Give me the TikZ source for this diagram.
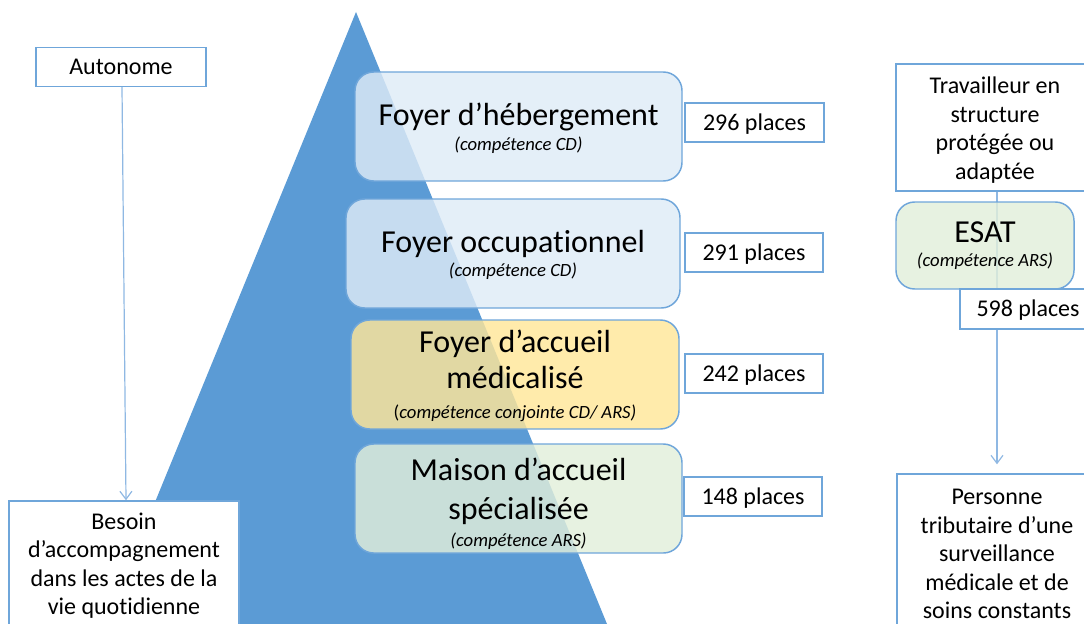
\documentclass[tikz,border=0pt]{standalone}
\usepackage{fontspec}
\setmainfont{Carlito}[Ligatures=NoCommon]
\usetikzlibrary{arrows.meta,calc}
\definecolor{tri}{HTML}{5B9BD5}
\definecolor{bord}{HTML}{6FA6DA}
\definecolor{connc}{HTML}{8FB8E3}
\definecolor{lblue}{HTML}{DEEBF7}
\definecolor{lyellow}{HTML}{FFE699}
\definecolor{lgreen}{HTML}{E2EFDA}
\newcommand\bigf{\fontsize{24}{27}\selectfont}
\newcommand\itf{\fontsize{14}{16}\selectfont\itshape}
\newcommand\txtf{\fontsize{18}{21.4}\selectfont}
\begin{document}
\begin{tikzpicture}[x=0.75pt,y=-0.75pt,
  plainbox/.style={draw=bord, line width=1.1pt, fill=white, font=\txtf, align=center, inner sep=0pt},
  onebox/.style={plainbox, text height=15.5pt, text depth=3.6pt},
  estab/.style={draw=bord, line width=1.1pt, rounded corners=14pt, fill opacity=0.82, text opacity=1, font=\bigf, align=center, inner sep=0pt, minimum height=81.75pt},
  conn/.style={draw=connc, line width=0.9pt},
  arr/.style={conn, -{Straight Barb[length=6pt, width=9pt]}}]
\useasboundingbox (0,0) rectangle (1084,624);
\clip (0,0) rectangle (1084,624);
\fill[tri] (356,12) -- (607,624) -- (105,624) -- cycle;

% left column
\node[onebox, minimum width=127.5pt, minimum height=29.25pt] (auto) at (121,67) {Autonome};
\node[plainbox, minimum width=172.5pt, minimum height=96.75pt] (besoin) at (124,565.5)
  {Besoin\\d’accompagnement\\dans les actes de la\\vie quotidienne};
\draw[arr] ([xshift=0.75pt]auto.south) -- ([xshift=1.5pt]besoin.north);

% right column
\node[plainbox, minimum width=148.5pt, minimum height=95.25pt] (trav) at (995,127.5)
  {\rule{0pt}{16.5pt}Travailleur en\\structure\\protégée ou\\adaptée};
\node[plainbox, minimum width=150pt, minimum height=116.25pt] (pers) at (997,551.5)
  {\rule{0pt}{15.5pt}Personne\\tributaire d’une\\surveillance\\médicale et de\\soins constants};
\draw[arr] ([xshift=1.5pt]trav.south) -- ([yshift=6.75pt]pers.north);
\node[estab, fill=lgreen, minimum width=133.5pt, minimum height=65.25pt] (esat) at (985,245.5)
  {ESAT\\[-9pt]{\itf (compétence ARS)}};
\node[onebox, minimum width=102pt, minimum height=30pt] (p598) at (1028,309) {598 places};

% establishments
\node[estab, fill=lblue, minimum width=245.25pt] (fh) at (518.5,126.5)
  {\rule{0pt}{20pt}Foyer d’hébergement\\[-8.5pt]{\itf (compétence CD)}};
\node[estab, fill=lblue, minimum width=250.5pt] (fo) at (513,253.5)
  {\rule{0pt}{19.5pt}Foyer occupationnel\\[-9pt]{\itf (compétence CD)}};
\node[estab, fill=lyellow, minimum width=246pt] (fam) at (515,374.5)
  {\rule{0pt}{19pt}Foyer d’accueil\\médicalisé\\[-5pt]{\fontsize{14}{16}\selectfont(\textit{compétence conjointe CD/ ARS)}}};
\node[estab, fill=lgreen, minimum width=245.25pt] (mas) at (518.5,498.5)
  {\rule{0pt}{25pt}Maison d’accueil\\[2pt]spécialisée\\[-6.5pt]{\itf (compétence ARS)}};

% places
\node[onebox, minimum width=104.25pt, minimum height=29.25pt] (p296) at (754.5,122.5) {296 places};
\node[onebox, minimum width=103.5pt, minimum height=29.25pt] (p291) at (754,252.5) {291 places};
\node[onebox, minimum width=103.5pt, minimum height=29.25pt] (p242) at (754,373.5) {242 places};
\node[onebox, minimum width=103.5pt, minimum height=29.25pt] (p148) at (753,496.5) {148 places};
\end{tikzpicture}
\end{document}
